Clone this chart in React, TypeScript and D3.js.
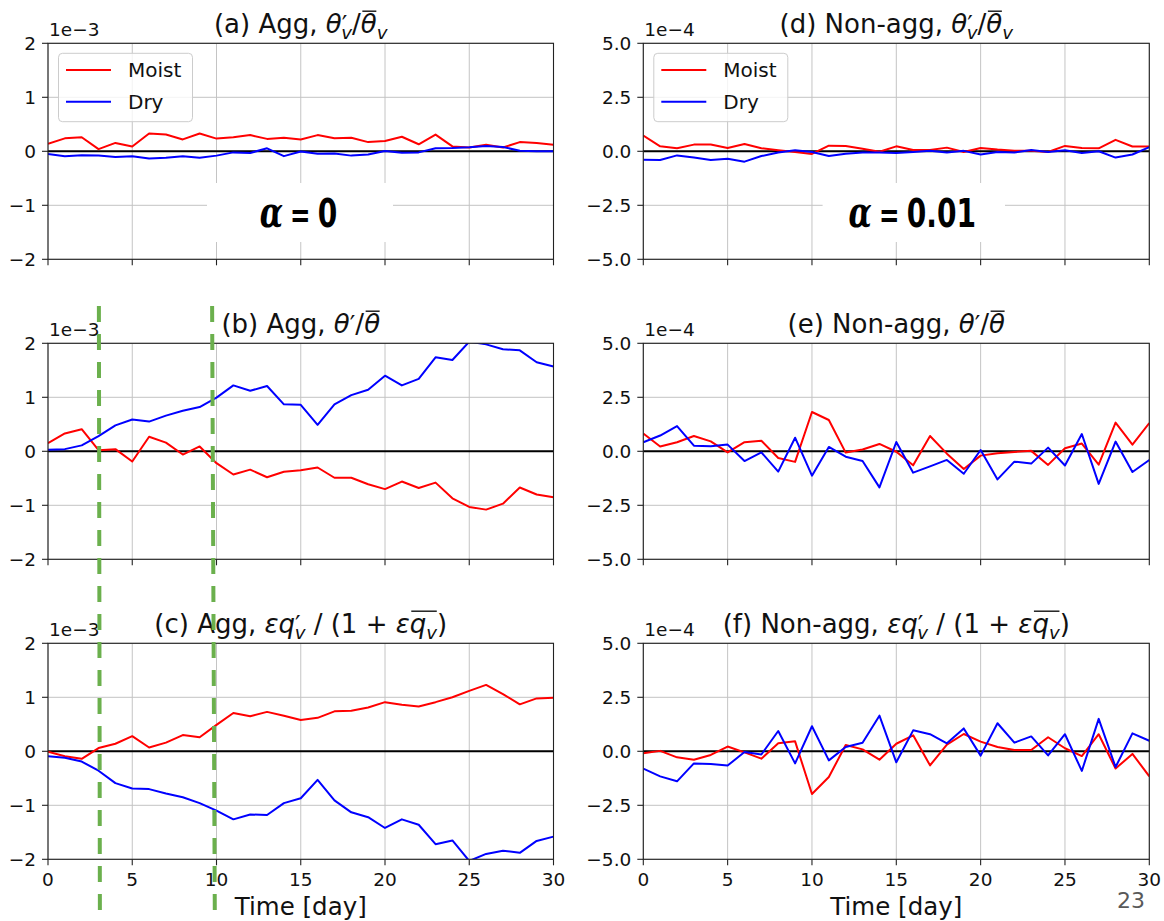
import React, { useLayoutEffect, useRef, useState } from "react";
import * as d3 from "d3";

// ---------- data (values in units of the axis offset: 1e-3 left, 1e-4 right) ----------
const days = [0, 1, 2, 3, 4, 5, 6, 7, 8, 9, 10, 11, 12, 13, 14, 15, 16, 17, 18, 19, 20, 21, 22, 23, 24, 25, 26, 27, 28, 29, 30];

const aMoist = [0.14, 0.24, 0.26, 0.04, 0.155, 0.09, 0.33, 0.31, 0.22, 0.33, 0.235, 0.26, 0.3, 0.23, 0.25, 0.22, 0.3, 0.24, 0.25, 0.17, 0.19, 0.27, 0.13, 0.31, 0.09, 0.07, 0.12, 0.07, 0.17, 0.155, 0.12];
const aDry = [-0.05, -0.09, -0.075, -0.08, -0.105, -0.09, -0.135, -0.12, -0.09, -0.12, -0.08, -0.02, -0.03, 0.055, -0.09, -0.005, -0.045, -0.04, -0.08, -0.06, 0.005, -0.025, -0.02, 0.055, 0.06, 0.075, 0.1, 0.08, 0.01, 0.0, 0.0];

const bMoist = [0.15, 0.33, 0.41, 0.02, 0.04, -0.19, 0.27, 0.16, -0.06, 0.09, -0.22, -0.43, -0.34, -0.48, -0.38, -0.35, -0.3, -0.49, -0.49, -0.61, -0.7, -0.56, -0.68, -0.58, -0.87, -1.03, -1.08, -0.97, -0.67, -0.8, -0.85];
const bDry = [0.03, 0.04, 0.11, 0.28, 0.48, 0.59, 0.55, 0.66, 0.75, 0.82, 0.995, 1.22, 1.12, 1.21, 0.87, 0.86, 0.49, 0.87, 1.04, 1.14, 1.4, 1.22, 1.34, 1.74, 1.69, 2.03, 1.98, 1.89, 1.87, 1.65, 1.57];

const cMoist = [-0.01, -0.09, -0.14, 0.06, 0.14, 0.28, 0.07, 0.16, 0.3, 0.26, 0.49, 0.71, 0.65, 0.73, 0.66, 0.58, 0.62, 0.74, 0.75, 0.81, 0.91, 0.86, 0.83, 0.91, 1.0, 1.12, 1.23, 1.06, 0.87, 0.98, 0.99];
const cDry = [-0.09, -0.12, -0.19, -0.36, -0.59, -0.69, -0.7, -0.78, -0.85, -0.96, -1.1, -1.26, -1.17, -1.18, -0.96, -0.87, -0.53, -0.91, -1.13, -1.22, -1.42, -1.26, -1.36, -1.72, -1.65, -2.03, -1.9, -1.84, -1.88, -1.66, -1.58];

const dMoist = [0.73, 0.23, 0.14, 0.31, 0.31, 0.15, 0.34, 0.14, 0.05, -0.03, -0.12, 0.26, 0.25, 0.12, -0.02, 0.23, 0.06, 0.06, 0.17, -0.03, 0.15, 0.08, 0.03, 0.02, -0.03, 0.25, 0.15, 0.14, 0.53, 0.22, 0.22];
const dDry = [-0.39, -0.4, -0.19, -0.29, -0.4, -0.34, -0.48, -0.22, -0.06, 0.05, -0.03, -0.22, -0.11, -0.06, -0.06, -0.08, -0.03, 0.02, -0.06, 0.02, -0.15, -0.03, -0.06, 0.06, -0.03, 0.05, -0.08, 0.0, -0.29, -0.15, 0.19];

const eMoist = [0.82, 0.22, 0.42, 0.71, 0.46, -0.05, 0.42, 0.49, -0.31, -0.49, 1.82, 1.45, -0.06, 0.08, 0.34, -0.02, -0.65, 0.71, -0.11, -0.82, -0.2, -0.09, -0.03, 0.02, -0.63, 0.14, 0.36, -0.62, 1.33, 0.31, 1.31];
const eDry = [0.42, 0.73, 1.17, 0.26, 0.23, 0.31, -0.45, -0.05, -0.94, 0.63, -1.13, 0.2, -0.25, -0.45, -1.67, 0.43, -0.99, -0.7, -0.4, -1.04, 0.06, -1.3, -0.48, -0.57, 0.17, -0.66, 0.8, -1.51, 0.45, -0.96, -0.4];

const fMoist = [-0.09, 0.02, -0.28, -0.39, -0.17, 0.22, -0.05, -0.34, 0.37, 0.46, -1.98, -1.19, 0.29, 0.09, -0.39, 0.35, 0.74, -0.65, 0.31, 0.8, 0.45, 0.2, 0.06, 0.06, 0.65, 0.14, -0.22, 0.79, -0.8, -0.12, -1.16];
const fDry = [-0.8, -1.16, -1.39, -0.56, -0.59, -0.66, -0.03, -0.15, 0.94, -0.56, 1.16, -0.42, 0.2, 0.4, 1.65, -0.51, 0.97, 0.79, 0.37, 1.06, -0.2, 1.3, 0.4, 0.69, -0.19, 0.79, -0.91, 1.5, -0.73, 0.83, 0.49];

const xTicks = [0, 5, 10, 15, 20, 25, 30];
const yTicksAgg = [-2, -1, 0, 1, 2];
const yTickLabelsAgg = ["\u22122", "\u22121", "0", "1", "2"];
const yTicksNon = [-5, -2.5, 0, 2.5, 5];
const yTickLabelsNon = ["\u22125.0", "\u22122.5", "0.0", "2.5", "5.0"];
const offsetAgg = "1e\u22123";
const offsetNon = "1e\u22124";
const seriesNames = ["Moist", "Dry"];
const seriesColors = ["#ff0000", "#0000ff"];
const xLabel = "Time [day]";
const alphaLabels = ["0", "0.01"];
const markerDays = [
  { top: 3.02, bottom: 3.08 },
  { top: 9.74, bottom: 9.9 },
];
const pageNumber = "23";

// ---------- layout ----------
const FONT = "'DejaVu Sans', Verdana, sans-serif";
const COLS = [
  { x0: 48, x1: 553.5 },
  { x0: 643.3, x1: 1149.3 },
];
const ROWS = [43.3, 343.3, 643.3];
const PH = 216;
const TITLE_SIZE = 26;

type Part = { t: string; it?: boolean; sh?: number; sc?: number; dx?: number; ov?: number };

function MathText({ x, y, size, parts }: { x: number; y: number; size: number; parts: Part[] }) {
  const ref = useRef<SVGTextElement>(null);
  const [bars, setBars] = useState<{ x1: number; x2: number }[]>([]);
  useLayoutEffect(() => {
    const el = ref.current;
    if (!el) return;
    const groups = new Map<number, { x1: number; x2: number }>();
    el.querySelectorAll("tspan[data-ov]").forEach((ts) => {
      const g = +(ts.getAttribute("data-ov") || 0);
      const b = (ts as unknown as SVGGraphicsElement).getBBox();
      const cur = groups.get(g);
      if (!cur) groups.set(g, { x1: b.x, x2: b.x + b.width });
      else groups.set(g, { x1: Math.min(cur.x1, b.x), x2: Math.max(cur.x2, b.x + b.width) });
    });
    setBars(Array.from(groups.values()));
  }, []);
  let cur = 0;
  return (
    <g>
      <text ref={ref} x={x} y={y} fontSize={size} textAnchor="middle" fontFamily={FONT} fill="#111">
        {parts.map((p, i) => {
          const sh = p.sh ?? 0;
          const dy = sh - cur;
          cur = sh;
          return (
            <tspan
              key={i}
              dy={dy !== 0 ? dy : undefined}
              dx={p.dx}
              fontStyle={p.it ? "italic" : undefined}
              fontSize={p.sc ? size * p.sc : undefined}
              data-ov={p.ov}
            >
              {p.t}
            </tspan>
          );
        })}
      </text>
      {bars.map((b, i) => (
        <line key={i} x1={b.x1 + 1.5} x2={b.x2 - 0.5} y1={y - size * 0.85} y2={y - size * 0.85} stroke="#111" strokeWidth={1.4} />
      ))}
    </g>
  );
}

const PRIME: Part = { t: "\u2032", sc: 0.95, sh: 0 };
const SUBV_STACK: Part = { t: "v", it: true, sc: 0.7, sh: 6, dx: -6 };
const SUBV: Part = { t: "v", it: true, sc: 0.7, sh: 6 };

const titles: Part[][] = [
  [{ t: "(a) Agg, " }, { t: "θ", it: true }, PRIME, SUBV_STACK, { t: "/" }, { t: "θ", it: true, ov: 1 }, SUBV],
  [{ t: "(b) Agg, " }, { t: "θ", it: true }, PRIME, { t: "/" }, { t: "θ", it: true, ov: 1 }],
  [
    { t: "(c) Agg, " },
    { t: "εq", it: true },
    PRIME,
    SUBV_STACK,
    { t: " / (1 + " },
    { t: "ε", it: true },
    { t: "q", it: true, ov: 1 },
    { ...SUBV, ov: 1 },
    { t: ")" },
  ],
  [{ t: "(d) Non-agg, " }, { t: "θ", it: true }, PRIME, SUBV_STACK, { t: "/" }, { t: "θ", it: true, ov: 1 }, SUBV],
  [{ t: "(e) Non-agg, " }, { t: "θ", it: true }, PRIME, { t: "/" }, { t: "θ", it: true, ov: 1 }],
  [
    { t: "(f) Non-agg, " },
    { t: "εq", it: true },
    PRIME,
    SUBV_STACK,
    { t: " / (1 + " },
    { t: "ε", it: true },
    { t: "q", it: true, ov: 1 },
    { ...SUBV, ov: 1 },
    { t: ")" },
  ],
];

type PanelProps = {
  id: string;
  col: number;
  row: number;
  moist: number[];
  dry: number[];
  agg: boolean;
  title: Part[];
  showX: boolean;
  legend: boolean;
  alpha?: string;
};

function Panel({ id, col, row, moist, dry, agg, title, showX, legend, alpha }: PanelProps) {
  const { x0, x1 } = COLS[col];
  const top = ROWS[row];
  const bottom = top + PH;
  const lim = agg ? 2 : 5;
  const x = d3.scaleLinear().domain([0, 30]).range([x0, x1]);
  const y = d3.scaleLinear().domain([-lim, lim]).range([bottom, top]);
  const yTicks = agg ? yTicksAgg : yTicksNon;
  const yLabels = agg ? yTickLabelsAgg : yTickLabelsNon;
  const line = d3
    .line<number>()
    .x((_, i) => x(days[i]))
    .y((v) => y(v));
  const cx = (x0 + x1) / 2;
  const boxX0 = col === 0 ? x0 + 159 : x0 + 179.3;
  const boxX1 = col === 0 ? x0 + 345 : x0 + 361.7;
  const alphaCx = (boxX0 + boxX1) / 2 - 1.5;
  return (
    <g>
      <defs>
        <clipPath id={`clip-${id}`}>
          <rect x={x0} y={top} width={x1 - x0} height={PH} />
        </clipPath>
      </defs>
      {/* grid */}
      {xTicks.map((t) => (
        <line key={`gx${t}`} x1={x(t)} x2={x(t)} y1={top} y2={bottom} stroke="#c4c4c4" strokeWidth={1} />
      ))}
      {yTicks.map((t) => (
        <line key={`gy${t}`} x1={x0} x2={x1} y1={y(t)} y2={y(t)} stroke="#c4c4c4" strokeWidth={1} />
      ))}
      {/* alpha annotation box */}
      {alpha !== undefined && (
        <rect x={boxX0} y={top + 139.7} width={boxX1 - boxX0} height={59} fill="#ffffff" />
      )}
      {/* zero line */}
      <line x1={x0} x2={x1} y1={y(0)} y2={y(0)} stroke="#000" strokeWidth={2} />
      {/* series */}
      <g clipPath={`url(#clip-${id})`}>
        <path d={line(moist) || ""} fill="none" stroke={seriesColors[0]} strokeWidth={2} strokeLinejoin="round" />
        <path d={line(dry) || ""} fill="none" stroke={seriesColors[1]} strokeWidth={2} strokeLinejoin="round" />
      </g>
      {/* spines */}
      <rect x={x0} y={top} width={x1 - x0} height={PH} fill="none" stroke="#222" strokeWidth={1.1} />
      {/* ticks */}
      {xTicks.map((t) => (
        <line key={`tx${t}`} x1={x(t)} x2={x(t)} y1={bottom} y2={bottom + 6} stroke="#222" strokeWidth={1.1} />
      ))}
      {yTicks.map((t) => (
        <line key={`ty${t}`} x1={x0 - 6} x2={x0} y1={y(t)} y2={y(t)} stroke="#222" strokeWidth={1.1} />
      ))}
      {yTicks.map((t, i) => (
        <text key={`ly${t}`} x={x0 - 12} y={y(t)} dy="0.36em" textAnchor="end" fontSize={18.5} fontFamily={FONT} fill="#111">
          {yLabels[i]}
        </text>
      ))}
      {showX &&
        xTicks.map((t) => (
          <text key={`lx${t}`} x={x(t)} y={bottom + 27} textAnchor="middle" fontSize={18.5} fontFamily={FONT} fill="#111">
            {t}
          </text>
        ))}
      {showX && (
        <text x={cx} y={bottom + 56} textAnchor="middle" fontSize={24.5} fontFamily={FONT} fill="#111">
          {xLabel}
        </text>
      )}
      {/* offset text */}
      <text x={x0 + 1} y={top - 7} fontSize={18.5} fontFamily={FONT} fill="#111">
        {agg ? offsetAgg : offsetNon}
      </text>
      {/* title */}
      <MathText x={cx} y={top - 10} size={TITLE_SIZE} parts={title} />
      {/* legend */}
      {legend && (
        <g>
          <rect x={x0 + 10.5} y={top + 10} width={134} height={68.4} rx={4} fill="#fff" fillOpacity={0.8} stroke="#cccccc" strokeWidth={1} />
          {seriesNames.map((n, i) => (
            <g key={n}>
              <line x1={x0 + 18} x2={x0 + 63} y1={top + 26.7 + i * 31.7} y2={top + 26.7 + i * 31.7} stroke={seriesColors[i]} strokeWidth={2} />
              <text x={x0 + 80} y={top + 26.7 + i * 31.7 + 7} fontSize={20} fontFamily={FONT} fill="#111">
                {n}
              </text>
            </g>
          ))}
        </g>
      )}
      {/* alpha text (condensed by horizontal scaling) */}
      {alpha !== undefined && (
        <text transform={`translate(${alphaCx},${top + 183.4}) scale(0.72,1)`} textAnchor="middle" fill="#000">
          <tspan fontFamily="'DejaVu Serif', 'Liberation Serif', serif" fontStyle="italic" fontWeight="bold" fontSize={42}>
            α
          </tspan>
          <tspan dx={10} fontFamily={FONT} fontWeight="bold" fontSize={34}>
            =
          </tspan>
          <tspan dx={10} fontFamily={FONT} fontWeight="bold" fontSize={39}>
            {alpha}
          </tspan>
        </text>
      )}
    </g>
  );
}

export default function App() {
  const xl = d3.scaleLinear().domain([0, 30]).range([COLS[0].x0, COLS[0].x1]);
  return (
    <svg
      width={1164}
      height={921}
      viewBox="0 0 1164 921"
      style={{ position: "absolute", left: 0, top: 0, background: "#fff" }}
    >
      <rect x={0} y={0} width={1164} height={921} fill="#fff" />
      <Panel id="a" col={0} row={0} moist={aMoist} dry={aDry} agg title={titles[0]} showX={false} legend alpha={alphaLabels[0]} />
      <Panel id="b" col={0} row={1} moist={bMoist} dry={bDry} agg title={titles[1]} showX={false} legend={false} />
      <Panel id="c" col={0} row={2} moist={cMoist} dry={cDry} agg title={titles[2]} showX legend={false} />
      <Panel id="d" col={1} row={0} moist={dMoist} dry={dDry} agg={false} title={titles[3]} showX={false} legend alpha={alphaLabels[1]} />
      <Panel id="e" col={1} row={1} moist={eMoist} dry={eDry} agg={false} title={titles[4]} showX={false} legend={false} />
      <Panel id="f" col={1} row={2} moist={fMoist} dry={fDry} agg={false} title={titles[5]} showX legend={false} />
      {markerDays.map((m, i) => (
        <line
          key={i}
          x1={xl(m.top)}
          x2={xl(m.bottom)}
          y1={306}
          y2={915}
          stroke="#6bb04d"
          strokeWidth={4}
          strokeDasharray="16 12"
        />
      ))}
      <text x={1145} y={908} textAnchor="end" fontSize={22} fontFamily={FONT} fill="#595959">
        {pageNumber}
      </text>
    </svg>
  );
}
